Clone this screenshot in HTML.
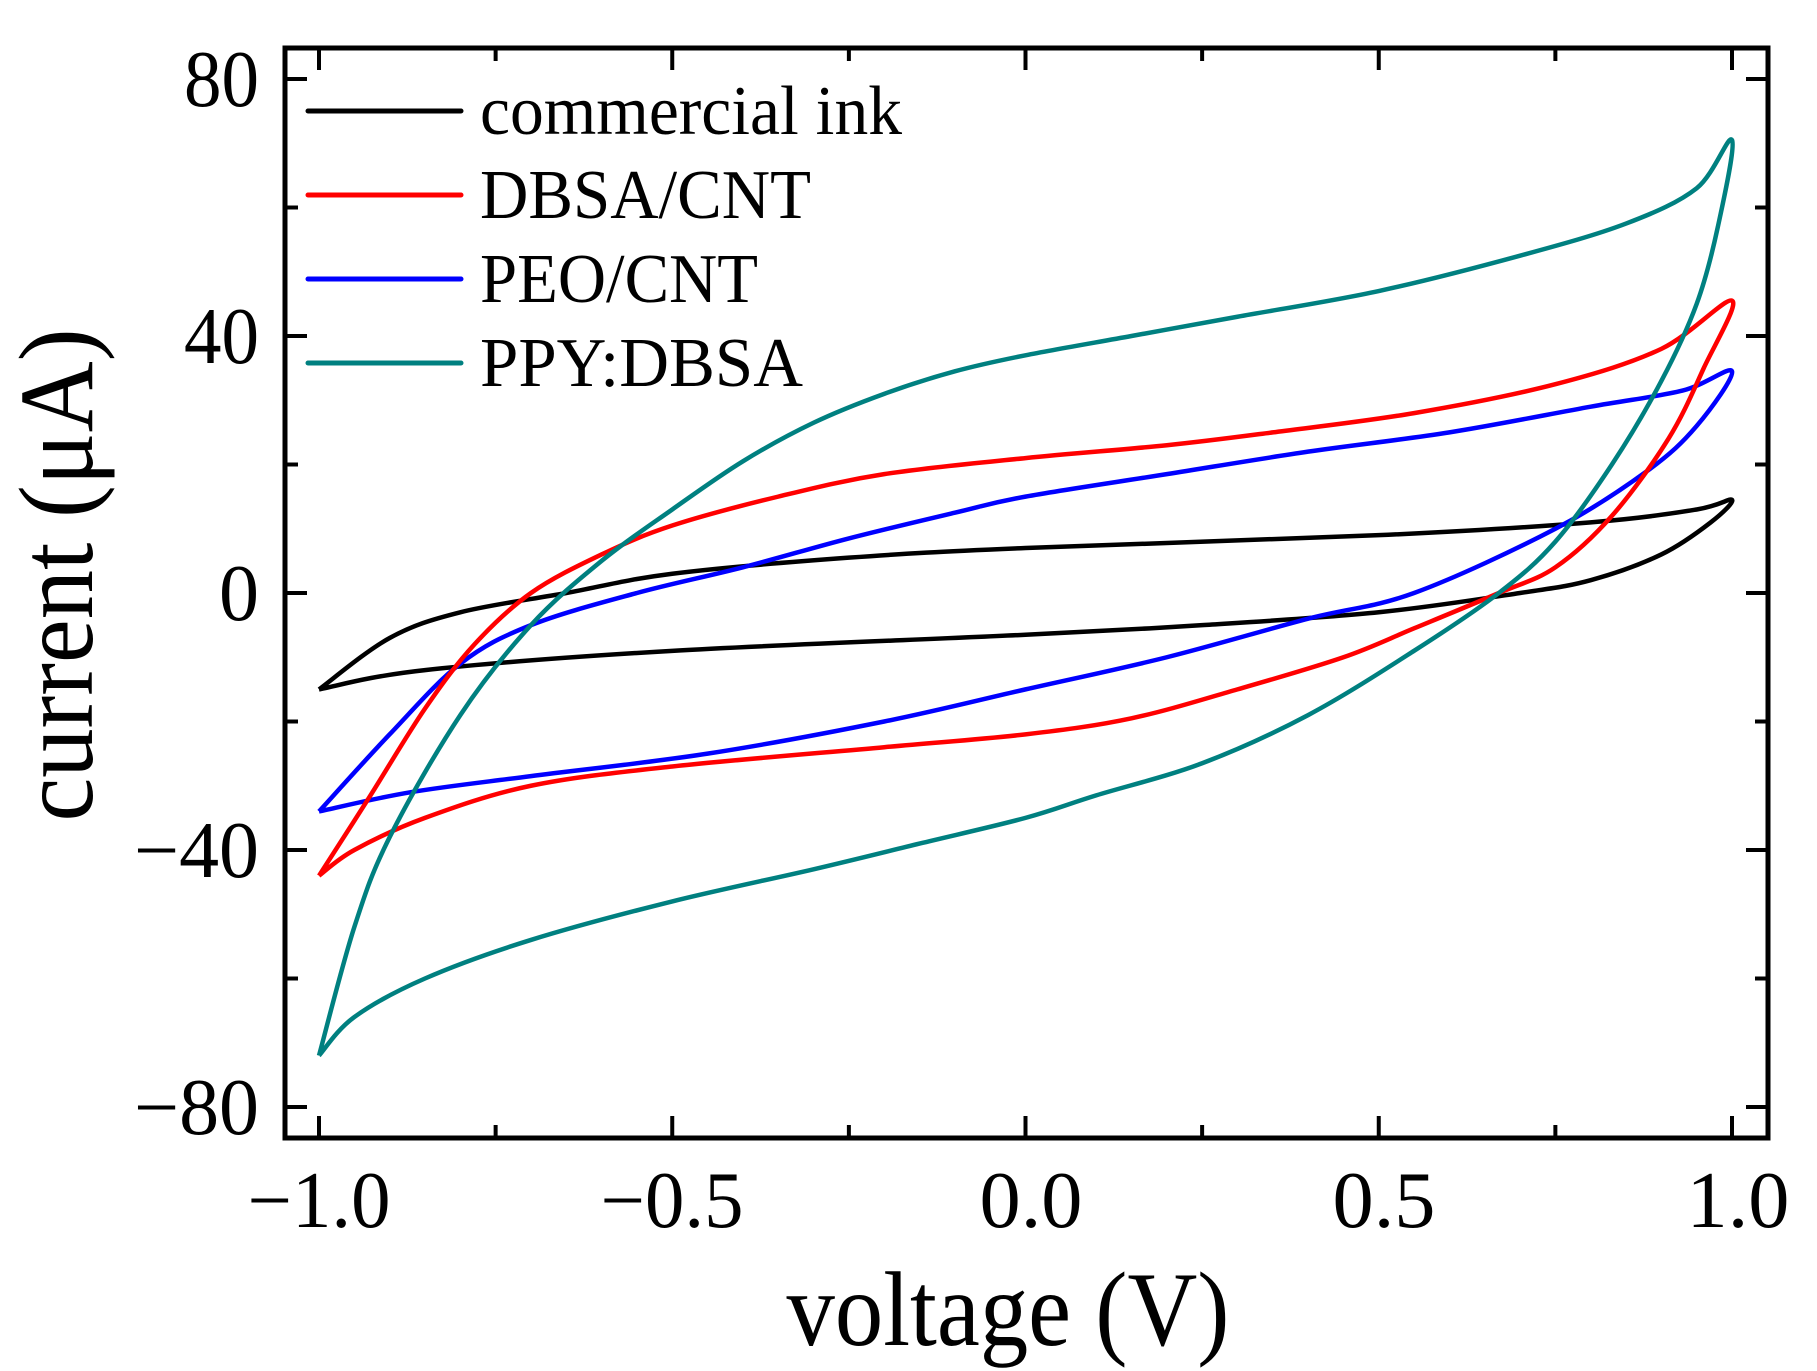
<!DOCTYPE html>
<html><head><meta charset="utf-8"><style>
html,body{margin:0;padding:0;background:#fff;}
svg{display:block;}
text{font-family:"Liberation Serif",serif;fill:#000;}
</style></head><body>
<svg id="s" width="1817" height="1371" xmlns="http://www.w3.org/2000/svg">
<rect x="0" y="0" width="1817" height="1371" fill="#fff"/>
<g id="curves" fill="none" stroke-width="4.5" stroke-linejoin="round"></g>
<rect x="285" y="48" width="1483" height="1090" fill="none" stroke="#000" stroke-width="5"/>
<g id="ticks" stroke="#000" stroke-width="4"></g>
<g font-size="80" text-anchor="end" lengthAdjust="spacingAndGlyphs">
<text x="259" y="106" textLength="75" lengthAdjust="spacingAndGlyphs">80</text>
<text x="259" y="363" textLength="75" lengthAdjust="spacingAndGlyphs">40</text>
<text x="259" y="620">0</text>
<text x="259" y="877" textLength="125" lengthAdjust="spacingAndGlyphs">−40</text>
<text x="259" y="1134" textLength="125" lengthAdjust="spacingAndGlyphs">−80</text>
</g>
<g font-size="80" text-anchor="middle">
<text x="319" y="1227" textLength="143" lengthAdjust="spacingAndGlyphs">−1.0</text>
<text x="672" y="1227" textLength="143" lengthAdjust="spacingAndGlyphs">−0.5</text>
<text x="1031" y="1227" textLength="103" lengthAdjust="spacingAndGlyphs">0.0</text>
<text x="1384" y="1227" textLength="103" lengthAdjust="spacingAndGlyphs">0.5</text>
<text x="1738" y="1227" textLength="103" lengthAdjust="spacingAndGlyphs">1.0</text>
</g>
<text x="1008" y="1345" font-size="106" text-anchor="middle" textLength="443" lengthAdjust="spacingAndGlyphs">voltage (V)</text>
<text transform="translate(92,575) rotate(-90)" font-size="106" text-anchor="middle" textLength="493" lengthAdjust="spacingAndGlyphs">current (μA)</text>
<g stroke-width="5" stroke-linecap="round">
<line x1="308" y1="111" x2="461" y2="111" stroke="#000"/>
<line x1="308" y1="195" x2="461" y2="195" stroke="#ff0000"/>
<line x1="308" y1="279" x2="461" y2="279" stroke="#0000ff"/>
<line x1="308" y1="363" x2="461" y2="363" stroke="#008080"/>
</g>
<g font-size="70">
<text x="480" y="134" textLength="422" lengthAdjust="spacingAndGlyphs">commercial ink</text>
<text x="480" y="218" textLength="331" lengthAdjust="spacingAndGlyphs">DBSA/CNT</text>
<text x="480" y="302" textLength="278" lengthAdjust="spacingAndGlyphs">PEO/CNT</text>
<text x="480" y="386" textLength="323" lengthAdjust="spacingAndGlyphs">PPY:DBSA</text>
</g>
</svg>
<script>
var X=function(v){return 1025.5+706.5*v},Y=function(i){return 593-6.425*i};
var ns="http://www.w3.org/2000/svg";
var tk=document.getElementById('ticks');
function ln(a,b,c,d){var l=document.createElementNS(ns,'line');l.setAttribute('x1',a);l.setAttribute('y1',b);l.setAttribute('x2',c);l.setAttribute('y2',d);tk.appendChild(l);}
for(var k=-4;k<=4;k++){var v=k*0.25,x=X(v),L=(k%2==0)?22:13;ln(x,1138,x,1138-L);ln(x,48,x,48+L);}
for(var k=-4;k<=4;k++){var i=k*20,y=Y(i),L=(k%2==0)?22:13;ln(285,y,285+L,y);ln(1768,y,1768-L,y);}
function path(pts){pts=pts.map(function(p){return [X(p[0]),Y(p[1])]});var d='M'+pts[0][0]+','+pts[0][1];
for(var i=0;i<pts.length-1;i++){var p0=pts[Math.max(i-1,0)],p1=pts[i],p2=pts[i+1],p3=pts[Math.min(i+2,pts.length-1)];
d+=' C'+(p1[0]+(p2[0]-p0[0])/6)+','+(p1[1]+(p2[1]-p0[1])/6)+' '+(p2[0]-(p3[0]-p1[0])/6)+','+(p2[1]-(p3[1]-p1[1])/6)+' '+p2[0]+','+p2[1];}return d;}
var data=[
['#000',[[-1,-15],[-0.9,-7],[-0.8,-3],[-0.65,0],[-0.5,3],[-0.25,5.5],[0,7],[0.5,9],[0.8,11],[0.95,13],[1,14.5],[0.97,11],[0.9,6],[0.8,2],[0.7,0],[0.5,-3],[0.25,-5],[0,-6.5],[-0.5,-9],[-0.85,-12],[-1,-15]]],
['#0000ff',[[-1,-34],[-0.9,-22],[-0.8,-11],[-0.7,-5],[-0.55,0],[-0.4,4],[-0.25,8.5],[-0.1,12.5],[0,15],[0.2,18.5],[0.4,22],[0.6,25],[0.8,29],[0.93,31.5],[1,34.5],[0.95,26],[0.88,19],[0.75,10],[0.55,0],[0.4,-4],[0.2,-10],[0,-15],[-0.2,-20],[-0.45,-25],[-0.7,-28.5],[-0.87,-31],[-1,-34]]],
['#ff0000',[[-1,-44],[-0.93,-32],[-0.85,-18],[-0.78,-8],[-0.7,0],[-0.6,6],[-0.5,10.5],[-0.35,15],[-0.2,18.5],[0,21],[0.2,23],[0.35,25],[0.55,28],[0.75,32.5],[0.9,38],[1,45.5],[0.96,35],[0.91,24],[0.83,12],[0.75,4],[0.67,0],[0.55,-5.5],[0.45,-10],[0.3,-15],[0.15,-19.5],[0,-22],[-0.2,-24],[-0.5,-27],[-0.7,-30],[-0.85,-35],[-0.95,-40],[-1,-44]]],
['#008080',[[-1,-72],[-0.95,-52],[-0.9,-38],[-0.8,-19],[-0.7,-5],[-0.6,5],[-0.5,13],[-0.4,20.5],[-0.3,26.5],[-0.2,31],[-0.1,34.5],[0,37],[0.15,40],[0.3,43],[0.5,47],[0.7,52.5],[0.85,57.5],[0.95,63],[1,70.5],[0.98,57],[0.95,45],[0.9,33],[0.83,20],[0.75,8],[0.67,0],[0.55,-9],[0.4,-19],[0.25,-26.5],[0.1,-31.5],[0,-35],[-0.15,-39],[-0.3,-43],[-0.5,-48],[-0.7,-54],[-0.85,-60],[-0.95,-66],[-1,-72]]]
];
var g=document.getElementById('curves');
data.forEach(function(c){var p=document.createElementNS(ns,'path');p.setAttribute('d',path(c[1]));p.setAttribute('stroke',c[0]);g.appendChild(p);});
</script>
</body></html>
